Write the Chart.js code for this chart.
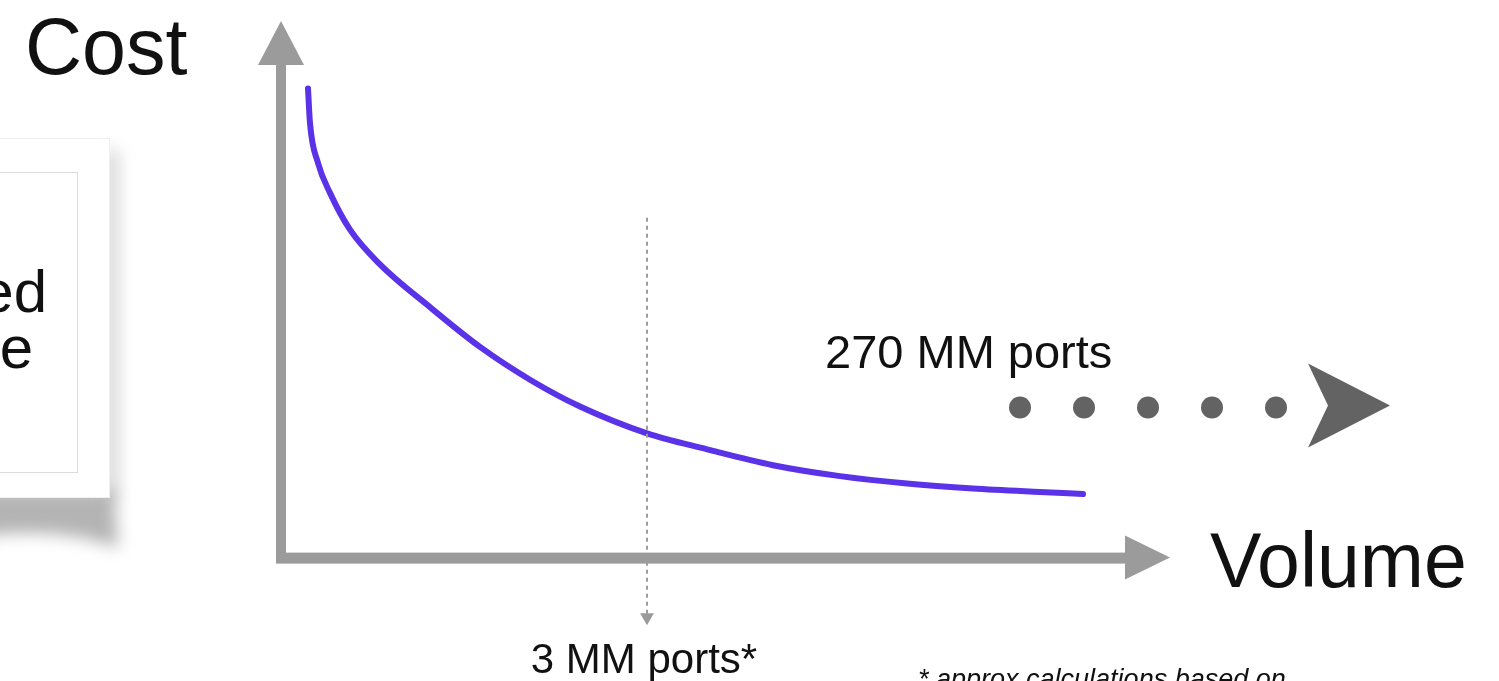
<!DOCTYPE html>
<html>
<head>
<meta charset="utf-8">
<script src="https://cdn.jsdelivr.net/npm/chart.js@4.4.1/dist/chart.umd.min.js"></script>
<style>
  html, body { margin: 0; padding: 0; background: #ffffff; }
  #wrap { width: 1499px; height: 681px; position: relative; }
</style>
</head>
<body>
<div id="wrap"><canvas id="c" width="1499" height="681"></canvas></div>
<script>
// Cost per unit against production volume (arbitrary units)
const volume = [2.7, 2.9, 3.7, 4.9, 6.9, 9.9, 14.9, 19.9, 24.9, 29.9, 36.6, 42.6, 49.2, 55.9, 62.6, 69.2, 75.9, 80.2];
const cost   = [94.4, 87.4, 79.4, 73.4, 66.0, 59.0, 50.4, 42.4, 35.8, 30.4, 25.0, 21.8, 18.6, 16.4, 14.9, 13.9, 13.2, 12.8];

// Marker for today's volume (3 MM ports)
const markerVolume = 36.6;
const markerSpan = [68.4, -12];

// Continuation toward 270 MM ports
const trailVolume = [73.9, 80.3, 86.7, 93.1, 99.5];
const trailCost = 30.2;
const trailArrow = { back: 102.7, notch: 104.7, tip: 110.9, cost: 30.6, half: 8.4 };

// Axis extents
const axisEnd = { x: 88.9, y: 108 };

const labels = {
  yTitle: 'Cost',
  xTitle: 'Volume',
  marker: '3 MM ports*',
  target: '270 MM ports',
  note: '* approx calculations based on',
  card: ['ed', 'e']
};

const GRAY = '#9b9b9b';
const DARK = '#636363';
const PURPLE = '#5a32e8';
const FONT = '"Liberation Sans", Arial, sans-serif';

const decor = {
  id: 'decor',
  beforeDatasetsDraw(chart) {
    const { ctx, scales: { x, y } } = chart;
    const x0 = x.getPixelForValue(0), y0 = y.getPixelForValue(0);
    const xEnd = x.getPixelForValue(axisEnd.x), yEnd = y.getPixelForValue(axisEnd.y);
    ctx.save();

    // side card with a soft drop shadow
    ctx.save();
    ctx.filter = 'blur(8px)';
    ctx.fillStyle = 'rgba(130,130,130,0.6)';
    ctx.beginPath();
    ctx.moveTo(-20, 490); ctx.lineTo(114, 490); ctx.lineTo(118, 548);
    ctx.quadraticCurveTo(60, 526, -20, 536); ctx.closePath(); ctx.fill();
    ctx.fillStyle = 'rgba(160,160,160,0.45)';
    ctx.fillRect(104, 150, 14, 350);
    ctx.restore();
    ctx.fillStyle = '#ffffff';
    ctx.fillRect(-20, 138, 130, 360);
    ctx.strokeStyle = '#efefef'; ctx.lineWidth = 1;
    ctx.strokeRect(-20.5, 138.5, 130, 359);
    ctx.strokeStyle = '#dcdcdc';
    ctx.strokeRect(-20.5, 172.5, 98, 300);
    ctx.fillStyle = '#111111';
    ctx.font = '60px ' + FONT;
    ctx.textAlign = 'right'; ctx.textBaseline = 'alphabetic';
    ctx.fillText(labels.card[0], 47, 312);
    ctx.fillText(labels.card[1], 33, 368);

    // axes
    ctx.fillStyle = GRAY;
    const hw = 5;
    ctx.fillRect(x0 - hw, yEnd + 40, hw * 2, y0 - yEnd - 40 + hw);
    ctx.fillRect(x0 - hw, y0 - hw, xEnd - 40 - x0 + hw, hw * 2 + 1);
    ctx.beginPath();
    ctx.moveTo(x0, yEnd); ctx.lineTo(x0 + 23, yEnd + 44); ctx.lineTo(x0 - 23, yEnd + 44);
    ctx.closePath(); ctx.fill();
    ctx.beginPath();
    ctx.moveTo(xEnd, y0); ctx.lineTo(xEnd - 45, y0 - 22); ctx.lineTo(xEnd - 45, y0 + 22);
    ctx.closePath(); ctx.fill();

    // chevron at the end of the dotted trail
    ctx.fillStyle = DARK;
    const ty = y.getPixelForValue(trailArrow.cost);
    ctx.beginPath();
    ctx.moveTo(x.getPixelForValue(trailArrow.tip), ty);
    ctx.lineTo(x.getPixelForValue(trailArrow.back), ty - trailArrow.half * 5);
    ctx.lineTo(x.getPixelForValue(trailArrow.notch), ty);
    ctx.lineTo(x.getPixelForValue(trailArrow.back), ty + trailArrow.half * 5);
    ctx.closePath(); ctx.fill();

    // text
    ctx.fillStyle = '#111111';
    ctx.textAlign = 'left';
    ctx.font = '79px ' + FONT;
    ctx.fillText(labels.yTitle, 25, 74);
    ctx.font = '77px ' + FONT;
    ctx.fillText(labels.xTitle, 1210, 587);
    ctx.font = '47px ' + FONT;
    ctx.fillText(labels.target, 825, 368);
    ctx.font = '42px ' + FONT;
    ctx.textAlign = 'center';
    ctx.fillText(labels.marker, x.getPixelForValue(markerVolume) - 3, 673);
    ctx.textAlign = 'left';
    ctx.font = 'italic 27px ' + FONT;
    ctx.fillText(labels.note, 918, 688);
    ctx.restore();
  }
};

new Chart(document.getElementById('c'), {
  type: 'line',
  data: {
    datasets: [
      {
        label: 'marker',
        data: markerSpan.map(v => ({ x: markerVolume, y: v })),
        borderColor: GRAY,
        borderWidth: 2,
        borderDash: [4, 4],
        pointRadius: [0, 8],
        pointStyle: 'triangle',
        rotation: 180,
        pointBackgroundColor: GRAY,
        pointBorderWidth: 0,
        clip: false
      },
      {
        label: 'cost',
        data: volume.map((v, i) => ({ x: v, y: cost[i] })),
        borderColor: PURPLE,
        borderWidth: 6,
        pointRadius: 0,
        cubicInterpolationMode: 'monotone',
        borderCapStyle: 'round',
        clip: false
      },
      {
        label: 'trail',
        data: trailVolume.map(v => ({ x: v, y: trailCost })),
        showLine: false,
        pointRadius: 11,
        pointBackgroundColor: DARK,
        pointBorderWidth: 0,
        clip: false
      }
    ]
  },
  options: {
    responsive: false,
    animation: false,
    events: [],
    layout: { padding: { left: 281, right: 18, top: 7, bottom: 24 } },
    plugins: { legend: { display: false }, tooltip: { enabled: false } },
    scales: {
      x: { type: 'linear', min: 0, max: 120, display: false },
      y: { type: 'linear', min: -20, max: 110, display: false }
    }
  },
  plugins: [decor]
});
</script>
</body>
</html>
